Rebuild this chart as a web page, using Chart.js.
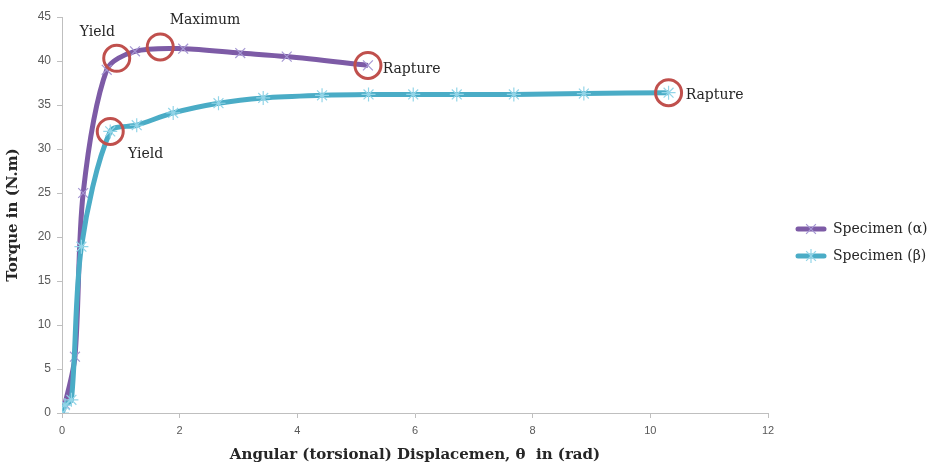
<!DOCTYPE html>
<html>
<head>
<meta charset="utf-8">
<script src="https://cdn.jsdelivr.net/npm/chart.js@4/dist/chart.umd.min.js"></script>
<style>
html,body{margin:0;padding:0;background:#fff;}
#wrap{width:939px;height:468px;}
</style>
</head>
<body>
<div id="wrap"><canvas id="c" width="939" height="468"></canvas></div>
<script>
// Specimen (α)
const alphaX = [0, 0.05, 0.22, 0.36, 0.76, 1.24, 2.06, 3.03, 3.82, 5.2];
const alphaY = [0, 1.0, 6.4, 25.0, 39.0, 41.1, 41.4, 40.9, 40.5, 39.5];
// Specimen (β)
const betaX = [0, 0.05, 0.16, 0.33, 0.82, 1.27, 1.89, 2.66, 3.42, 4.42, 5.21, 5.97, 6.71, 7.68, 8.87, 10.31];
const betaY = [0, 0.9, 1.5, 18.9, 32.0, 32.7, 34.1, 35.2, 35.8, 36.1, 36.2, 36.2, 36.2, 36.2, 36.3, 36.4];
// Series names
const seriesNames = ['Specimen (\u03b1)', 'Specimen (\u03b2)'];
// Marked points (circles)
const markX = [0.93, 1.67, 5.2, 0.82, 10.31];
const markY = [40.3, 41.6, 39.5, 32.0, 36.4];
// Annotation texts
const noteText = ['Yield', 'Maximum', 'Rapture', 'Yield', 'Rapture'];
const noteX = [0.6, 2.43, 5.45, 1.42, 10.6];
const noteY = [43.3, 44.6, 39.0, 29.4, 36.1];
const noteAlign = ['center', 'center', 'left', 'center', 'left'];
// Axis
const xTitle = 'Angular (torsional) Displacemen, \u03b8  in (rad)';
const yTitle = 'Torque in (N.m)';

const purple = '#7d5ba6';
const purpleMk = '#a597d3';
const cyan = '#4aacc6';
const cyanMk = '#93d5e8';
const ring = '#c0504d';
const serif = '"DejaVu Serif", "Liberation Serif", serif';

function pts(xs, ys){ return xs.map((x,i)=>({x:x, y:ys[i]})); }

function mark(ctx, style, c, y, r){
  ctx.beginPath();
  ctx.moveTo(c-r*0.7, y-r*0.7); ctx.lineTo(c+r*0.7, y+r*0.7);
  ctx.moveTo(c-r*0.7, y+r*0.7); ctx.lineTo(c+r*0.7, y-r*0.7);
  if (style === 'star') { ctx.moveTo(c, y-r); ctx.lineTo(c, y+r); }
  ctx.stroke();
}

const annot = {
  id: 'annot',
  afterDatasetsDraw(chart){
    const ctx = chart.ctx, xs = chart.scales.x, ys = chart.scales.y;
    ctx.save();
    ctx.fillStyle = '#262626';
    ctx.font = '14px ' + serif;
    ctx.textBaseline = 'middle';
    noteText.forEach((t,i)=>{
      ctx.textAlign = noteAlign[i];
      ctx.fillText(t, xs.getPixelForValue(noteX[i]), ys.getPixelForValue(noteY[i]));
    });
    // legend
    const ds = chart.data.datasets;
    const lx0 = 798, lx1 = 824, ly = [229, 256];
    [0,1].forEach(k=>{
      const d = ds[k];
      ctx.strokeStyle = d.borderColor; ctx.lineWidth = 5; ctx.lineCap = 'round';
      ctx.beginPath(); ctx.moveTo(lx0, ly[k]); ctx.lineTo(lx1, ly[k]); ctx.stroke();
      ctx.strokeStyle = d.pointBorderColor; ctx.lineWidth = 1.2; ctx.lineCap = 'butt';
      mark(ctx, d.pointStyle, (lx0+lx1)/2, ly[k], 7);
      ctx.fillStyle = '#262626';
      ctx.textAlign = 'left';
      ctx.font = '14px ' + serif;
      ctx.fillText(seriesNames[k], 833, ly[k]);
    });
    ctx.restore();
  }
};

new Chart(document.getElementById('c'), {
  type: 'scatter',
  data: {
    datasets: [
      {
        label: seriesNames[0],
        data: pts(alphaX, alphaY),
        showLine: true,
        borderColor: purple,
        borderWidth: 5,
        tension: 0.3,
        pointStyle: 'crossRot',
        pointRadius: 7,
        pointBorderColor: purpleMk,
        pointBackgroundColor: purpleMk,
        pointBorderWidth: 1.2,
        order: 2
      },
      {
        label: seriesNames[1],
        data: pts(betaX, betaY),
        showLine: true,
        borderColor: cyan,
        borderWidth: 5,
        tension: 0.3,
        pointStyle: 'star',
        pointRadius: 7,
        pointBorderColor: cyanMk,
        pointBackgroundColor: cyanMk,
        pointBorderWidth: 1.2,
        order: 1
      },
      {
        label: 'marks',
        data: pts(markX, markY),
        showLine: false,
        pointStyle: 'circle',
        pointRadius: 13,
        pointBorderWidth: 3,
        pointBorderColor: ring,
        pointBackgroundColor: 'rgba(0,0,0,0)',
        order: 0
      }
    ]
  },
  options: {
    responsive: false,
    animation: false,
    layout: { padding: { top: 17, right: 171, left: 0, bottom: 0 } },
    plugins: { legend: { display: false }, tooltip: { enabled: false } },
    scales: {
      x: {
        type: 'linear', min: 0, max: 12,
        ticks: { stepSize: 2, color: '#595959', font: { family: '"Liberation Sans", Arial', size: 11 }, padding: 6 },
        grid: { drawOnChartArea: false, tickLength: 5, color: '#bfbfbf' },
        border: { color: '#bfbfbf', width: 1 },
        title: { display: true, text: xTitle, color: '#262626', font: { family: serif, size: 15, weight: 'bold' }, padding: { top: 3 } },
        afterFit(s){ s.height = 55; }
      },
      y: {
        type: 'linear', min: 0, max: 45,
        ticks: { stepSize: 5, color: '#595959', font: { family: '"Liberation Sans", Arial', size: 12 }, padding: 6 },
        grid: { drawOnChartArea: false, tickLength: 5, color: '#bfbfbf' },
        border: { color: '#bfbfbf', width: 1 },
        title: { display: true, text: yTitle, color: '#262626', font: { family: serif, size: 15, weight: 'bold' }, padding: { bottom: 4 } },
        afterFit(s){ s.width = 62; }
      }
    }
  },
  plugins: [annot]
});
</script>
</body>
</html>
